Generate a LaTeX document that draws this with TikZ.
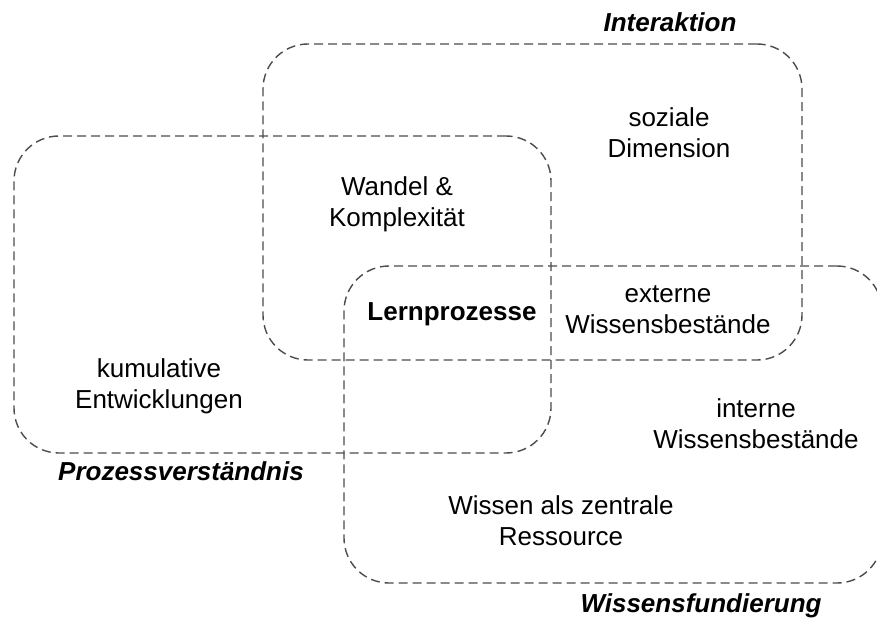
\documentclass[tikz,border=0pt]{standalone}
\usepackage{fontspec}
\setmainfont{Liberation Sans}
\usetikzlibrary{positioning}

\begin{document}
\begin{tikzpicture}[
  x=1pt, y=-1pt,
  field/.style={draw=black!70, line width=1.4pt, dash pattern=on 9pt off 5pt,
    rounded corners=45pt, inner sep=0pt},
  label/.style={align=center, font=\fontsize{26}{31}\selectfont},
  title/.style={font=\fontsize{26}{31}\selectfont\bfseries\itshape}
]
  \useasboundingbox (0,0) rectangle (877,620);
  % the three fields
  \node[field, minimum width=539pt, minimum height=316pt] (inter) at (532.5,202) {};
  \node[field, minimum width=537pt, minimum height=317pt] (proz) at (282.5,294.5) {};
  \node[field, minimum width=538pt, minimum height=317pt] (wiss) at (613,424.5) {};
  % titles
  \node[title] (tinter) at (670,22) {Interaktion};
  \node[title] (tproz) at (181,471) {Prozessverständnis};
  \node[title] (twiss) at (701,606) {Wissensfundierung};
  % contents
  \node[label] (sozial) at (669,133) {soziale\\Dimension};
  \node[label] (wandel) at (397,204) {Wandel \&\\Komplexität};
  \node[label, font=\fontsize{26}{31}\selectfont\bfseries] (lern) at (452,314) {Lernprozesse};
  \node[label] (extern) at (668,310) {externe\\Wissensbestände};
  \node[label] (kumul) at (159,386) {kumulative\\Entwicklungen};
  \node[label] (intern) at (756,424) {interne\\Wissensbestände};
  \node[label] (ressource) at (561,521) {Wissen als zentrale\\Ressource};
\end{tikzpicture}
\end{document}
